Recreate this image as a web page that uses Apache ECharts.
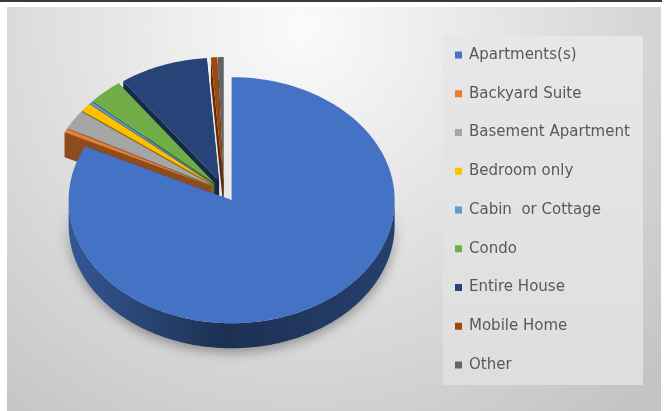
<!DOCTYPE html>
<html><head><meta charset="utf-8">
<script src="https://cdn.jsdelivr.net/npm/echarts@6/dist/echarts.min.js"></script>
<style>html,body{margin:0;padding:0;background:#fff;}#c{width:670px;height:411px;}</style>
</head><body><div id="c"></div>
<script>
// ---- data ----
const categories = ['Apartments(s)', 'Backyard Suite', 'Basement Apartment', 'Bedroom only', 'Cabin  or Cottage', 'Condo', 'Entire House', 'Mobile Home', 'Other'];
const shares = [82.2, 0.5, 2.5, 1.1, 0.3, 3.4, 8.8, 0.6, 0.6];
const colors = ['#4472C4', '#ED7D31', '#A5A5A5', '#FFC000', '#5B9BD5', '#70AD47', '#264478', '#9E480E', '#636363'];

// ---- 3D pie geometry (style) ----
const CX = 224, CY = 191, RX = 163, K = 0.755, H = 25, EXPLODE = 14.4;
const total = shares.reduce((a, b) => a + b, 0);
const starts = []; let acc = 0; shares.forEach(v => { starts.push(acc); acc += v; });

function shade(hex, f) {
  const n = parseInt(hex.slice(1), 16);
  const r = Math.round(((n >> 16) & 255) * f), g = Math.round(((n >> 8) & 255) * f), b = Math.round((n & 255) * f);
  return 'rgb(' + r + ',' + g + ',' + b + ')';
}
function arc(ox, oy, lo, hi, dy) {
  const pts = []; const n = Math.max(2, Math.ceil((hi - lo) / (Math.PI / 180)));
  for (let s = 0; s <= n; s++) { const t = lo + (hi - lo) * s / n; pts.push([ox + RX * Math.sin(t), oy - RX * K * Math.cos(t) + dy]); }
  return pts;
}
function renderSlice(params, api) {
  const i = params.seriesIndex;
  const v = api.value(0);
  const a0 = starts[i] / total * 2 * Math.PI, a1 = (starts[i] + v) / total * 2 * Math.PI;
  const m = (a0 + a1) / 2;
  const ox = CX + EXPLODE * Math.sin(m), oy = CY - EXPLODE * K * Math.cos(m);
  const base = colors[i];
  const depth = oy * 10;
  const children = [];
  [a0, a1].forEach(t => {
    const px = ox + RX * Math.sin(t), py = oy - RX * K * Math.cos(t);
    children.push({type: 'polygon', z2: depth, shape: {points: [[ox, oy], [px, py], [px, py + H], [ox, oy + H]]}, style: {fill: shade(base, 0.6)}});
  });
  const lo = Math.max(a0, Math.PI / 2), hi = Math.min(a1, 1.5 * Math.PI);
  if (hi > lo) {
    const top = arc(ox, oy, lo, hi, 0), bot = arc(ox, oy, lo, hi, H).reverse();
    children.push({type: 'polygon', z2: depth + 1, shape: {points: top.concat(bot)},
      style: {fill: new echarts.graphic.LinearGradient(CX - RX, 0, CX + RX, 0,
        [{offset: 0, color: shade(base, 0.78)}, {offset: 0.5, color: shade(base, 0.42)}, {offset: 1, color: shade(base, 0.55)}], true),
        shadowBlur: 12, shadowColor: 'rgba(0,0,0,0.35)', shadowOffsetY: 4}});
  }
  children.push({type: 'polygon', z2: depth + 2, shape: {points: [[ox, oy]].concat(arc(ox, oy, a0, a1, 0))}, style: {fill: base}});
  return {type: 'group', children: children};
}

const chart = echarts.init(document.getElementById('c'), null, {renderer: 'canvas'});
chart.setOption({
  animation: false,
  graphic: [
    {type: 'rect', z: -10, shape: {x: 0, y: 0, width: 662, height: 2}, style: {fill: '#3a3a3a'}},
    {type: 'rect', z: -10, shape: {x: 7, y: 7, width: 654, height: 404},
      style: {fill: new echarts.graphic.RadialGradient(0.45, 0.05, 1.25, [
        {offset: 0, color: '#fbfbfb'}, {offset: 0.45, color: '#e2e2e2'}, {offset: 1, color: '#c3c3c3'}])}},
    {type: 'rect', z: -9, shape: {x: 443, y: 36, width: 200, height: 349},
      style: {fill: new echarts.graphic.LinearGradient(0, 0, 0, 1, [{offset: 0, color: '#e7e7e7'}, {offset: 1, color: '#dedede'}])}}
  ],
  legend: {
    orient: 'vertical', left: 455, top: 47, padding: 0,
    itemWidth: 7, itemHeight: 7, itemGap: 22.75, icon: 'rect', selectedMode: false,
    data: categories,
    textStyle: {fontFamily: 'DejaVu Sans', fontSize: 15, color: '#595959', lineHeight: 16, padding: [0, 0, 0, 2]}
  },
  series: categories.map((name, i) => ({
    type: 'custom', name: name, coordinateSystem: 'none', silent: true,
    itemStyle: {color: colors[i]},
    data: [[shares[i]]],
    renderItem: renderSlice
  }))
});
</script></body></html>
